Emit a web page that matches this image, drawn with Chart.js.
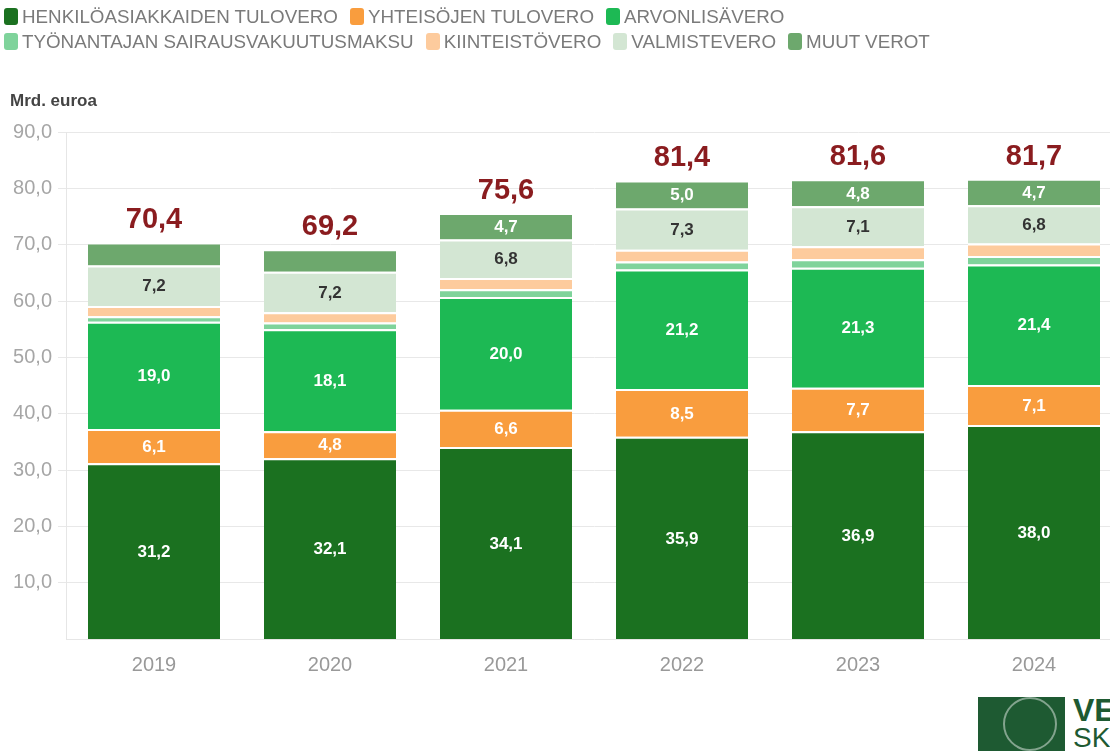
<!DOCTYPE html>
<html>
<head>
<meta charset="utf-8">
<script src="https://cdn.jsdelivr.net/npm/chart.js@4.4.1/dist/chart.umd.min.js"></script>
<style>
  html, body { margin: 0; padding: 0; background: #fff; overflow: hidden; width: 1110px; height: 751px; }
  #wrap { position: relative; width: 1110px; height: 751px; overflow: hidden; font-family: "Liberation Sans", Arial, sans-serif; }
  #legend { position: absolute; left: 4px; top: 4px; width: 1000px; }
  .row { display: flex; height: 25px; align-items: center; }
  .item { display: flex; align-items: center; margin-right: 12px; color: #7a7a7a; font-size: 18.8px; white-space: nowrap; }
  .box { width: 14px; height: 17px; border-radius: 3px; margin-right: 4px; }
  #unit { position: absolute; left: 10px; top: 91px; font-size: 17px; font-weight: bold; color: #444; }
  #canvasBox { position: absolute; left: 0; top: 0; width: 1125px; height: 690px; }
  #logo { position: absolute; left: 978px; top: 697px; width: 87px; height: 54px; background: #1e5a32; }
  #emblem { position: absolute; left: 25px; top: 0px; width: 54px; height: 54px; border-radius: 50%; border: 2px solid rgba(255,255,255,0.45); box-sizing: border-box; }
  #logoText { position: absolute; left: 1073px; top: 695px; color: #1e5a32; }
</style>
</head>
<body>
<div id="wrap">
  <div id="canvasBox"><canvas id="taxChart"></canvas></div>
  <div id="legend"></div>
  <div id="unit">Mrd. euroa</div>
  <div id="logo"><div id="emblem"></div></div>
  <div id="logoText"><div style="font-weight:bold;font-size:32px;line-height:30px;">VERO</div><div style="font-size:28px;line-height:26px;">SKATT</div></div>
</div>
<script>
const years = ['2019', '2020', '2021', '2022', '2023', '2024'];
const yTicks = [10, 20, 30, 40, 50, 60, 70, 80, 90];

const personalTax = [31.2, 32.1, 34.1, 35.9, 36.9, 38.0];
const corporateTax = [6.1, 4.8, 6.6, 8.5, 7.7, 7.1];
const vat = [19.0, 18.1, 20.0, 21.2, 21.3, 21.4];
const employerHealth = [1.0, 1.2, 1.4, 1.4, 1.5, 1.5];
const propertyTax = [1.8, 1.8, 2.0, 2.1, 2.3, 2.2];
const exciseTax = [7.2, 7.2, 6.8, 7.3, 7.1, 6.8];
const otherTaxes = [4.1, 4.0, 4.7, 5.0, 4.8, 4.7];
const totals = [70.4, 69.2, 75.6, 81.4, 81.6, 81.7];

const seriesNames = ['HENKILÖASIAKKAIDEN TULOVERO', 'YHTEISÖJEN TULOVERO', 'ARVONLISÄVERO',
  'TYÖNANTAJAN SAIRAUSVAKUUTUSMAKSU', 'KIINTEISTÖVERO', 'VALMISTEVERO', 'MUUT VEROT'];
const seriesColors = ['#1b7120', '#f99d3e', '#1db954', '#7fd39b', '#fdcb9d', '#d3e6d3', '#6da86d'];
const seriesData = [personalTax, corporateTax, vat, employerHealth, propertyTax, exciseTax, otherTaxes];
// which segments get a number label and in what colour
const labelColors = ['#fff', '#fff', '#fff', null, null, '#333', '#fff'];

const fmt = v => v.toFixed(1).replace('.', ',');

// html legend, two rows like the original
const legendEl = document.getElementById('legend');
[[0, 1, 2], [3, 4, 5, 6]].forEach(rowIdx => {
  const row = document.createElement('div');
  row.className = 'row';
  rowIdx.forEach(i => {
    const item = document.createElement('div');
    item.className = 'item';
    item.innerHTML = `<span class="box" style="background:${seriesColors[i]}"></span>${seriesNames[i]}`;
    row.appendChild(item);
  });
  legendEl.appendChild(row);
});

const datasets = seriesData.map((d, i) => ({
  label: seriesNames[i],
  data: d,
  backgroundColor: seriesColors[i],
  borderColor: '#fff',
  borderWidth: { top: 2, right: 0, bottom: 0, left: 0 },
  borderSkipped: 'bottom',
  barPercentage: 0.75,
  categoryPercentage: 1
}));

// segment labels and totals on top
const labelPlugin = {
  id: 'labels',
  afterDatasetsDraw(chart) {
    const c = chart.ctx;
    c.save();
    c.textAlign = 'center';
    c.textBaseline = 'middle';
    c.font = 'bold 17px "Liberation Sans", Arial, sans-serif';
    chart.data.datasets.forEach((ds, di) => {
      if (!labelColors[di]) return;
      const meta = chart.getDatasetMeta(di);
      meta.data.forEach((bar, i) => {
        const v = ds.data[i];
        if (v < 4.5) return;
        c.fillStyle = labelColors[di];
        c.fillText(fmt(v), bar.x, (bar.y + bar.base) / 2 + 1);
      });
    });
    const topMeta = chart.getDatasetMeta(chart.data.datasets.length - 1);
    c.font = 'bold 29px "Liberation Sans", Arial, sans-serif';
    c.fillStyle = '#8a1c1f';
    c.textBaseline = 'alphabetic';
    topMeta.data.forEach((bar, i) => {
      c.fillText(fmt(totals[i]), bar.x, bar.y - 14);
    });
    c.restore();
  }
};

new Chart(document.getElementById('taxChart'), {
  type: 'bar',
  data: { labels: years, datasets: datasets },
  options: {
    responsive: true,
    maintainAspectRatio: false,
    animation: false,
    layout: { padding: { top: 132, right: 3, left: 0, bottom: 7 } },
    plugins: { legend: { display: false }, tooltip: { enabled: false } },
    scales: {
      x: {
        stacked: true,
        grid: { display: false, drawTicks: true },
        border: { color: '#e6e6e6' },
        ticks: { color: '#999', font: { size: 20, family: '"Liberation Sans", Arial, sans-serif' }, padding: 6 }
      },
      y: {
        stacked: true,
        min: 0,
        max: 90,
        afterBuildTicks: axis => { axis.ticks = yTicks.map(v => ({ value: v })); },
        afterFit: axis => { axis.width = 66; },
        grid: { color: '#e8e8e8', tickLength: 8 },
        border: { color: '#e6e6e6' },
        ticks: {
          color: '#a6a6a6',
          font: { size: 20, family: '"Liberation Sans", Arial, sans-serif' },
          padding: 6,
          callback: v => fmt(v)
        }
      }
    }
  },
  plugins: [labelPlugin]
});
</script>
</body>
</html>
